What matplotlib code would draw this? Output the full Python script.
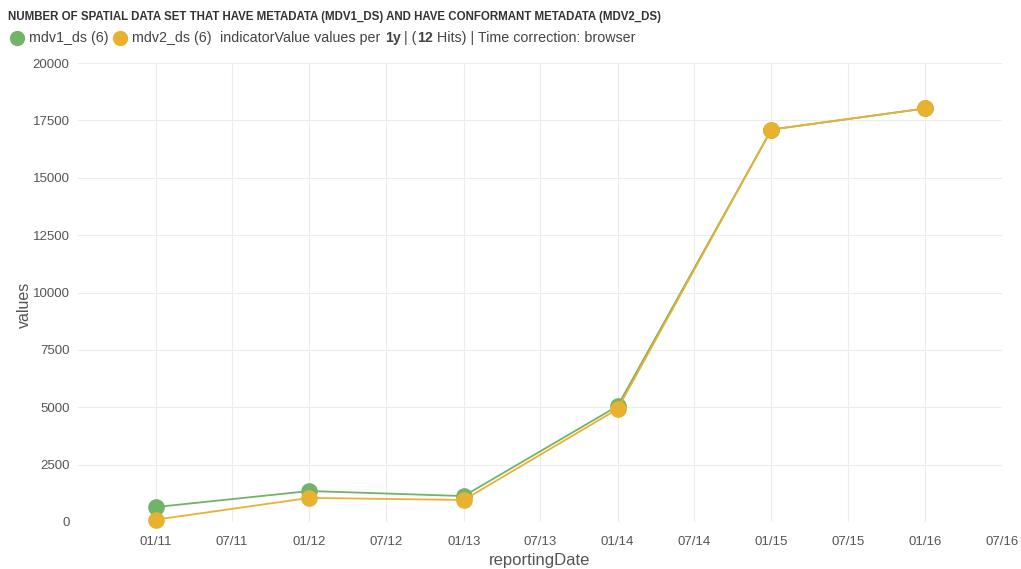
import matplotlib
matplotlib.use("Agg")
import matplotlib.pyplot as plt
import matplotlib.dates as mdates
from matplotlib.lines import Line2D
import datetime as dt

dates = ["2011-01-01", "2012-01-01", "2013-01-01", "2014-01-01", "2015-01-01", "2016-01-01"]
mdv1_ds = [650, 1350, 1130, 5050, 17100, 18020]
mdv2_ds = [100, 1050, 960, 4920, 17100, 18020]
series_names = ["mdv1_ds (6)", "mdv2_ds (6)"]
colors = ["#72b36a", "#e8b230"]
title = "NUMBER OF SPATIAL DATA SET THAT HAVE METADATA (MDV1_DS) AND HAVE CONFORMANT METADATA (MDV2_DS)"
yticks = [0, 2500, 5000, 7500, 10000, 12500, 15000, 17500, 20000]
xtick_dates = ["2011-01-01", "2011-07-01", "2012-01-01", "2012-07-01", "2013-01-01", "2013-07-01",
               "2014-01-01", "2014-07-01", "2015-01-01", "2015-07-01", "2016-01-01", "2016-07-01"]

plt.rcParams['font.family'] = ['Liberation Sans', 'DejaVu Sans']

def parse(d):
    return dt.datetime.strptime(d, "%Y-%m-%d")

x = [parse(d) for d in dates]

fig = plt.figure(figsize=(10.21, 5.69), dpi=100)
ax = fig.add_axes([78/1021, 1 - 522/569, (1002-78)/1021, (522-63)/569])

ax.plot(x, mdv1_ds, color=colors[0], lw=1.3, marker='o', ms=11, zorder=3, clip_on=False)
ax.plot(x, mdv2_ds, color=colors[1], lw=1.3, marker='o', ms=11, zorder=4, clip_on=False)

ax.set_xlim(dt.datetime(2010, 7, 1), dt.datetime(2016, 7, 1))
ax.set_ylim(0, 20000)
ax.set_yticks(yticks)
ax.set_xticks([parse(d) for d in xtick_dates])
ax.xaxis.set_major_formatter(mdates.DateFormatter("%m/%y"))
ax.grid(True, color="#ececec", lw=0.8)
ax.set_axisbelow(True)
for s in ax.spines.values():
    s.set_visible(False)
ax.tick_params(axis='both', length=0, labelsize=9.5, colors="#555555")
ax.tick_params(axis='x', pad=10)
ax.tick_params(axis='y', pad=6)
ax.set_ylabel("values", fontsize=11.5, color="#555555")
ax.yaxis.set_label_coords(-46/924, 0.474)
ax.set_xlabel("reportingDate", fontsize=12, color="#555555", labelpad=4)

fig.text(8/1021, 1 - 17/569, title, fontsize=8.3, fontweight='bold', color="#333333",
         va='center', ha='left')

# legend row
renderer = fig.canvas.get_renderer()
ly = 1 - 38/569
xpos = 10
def add_text(s, bold=False, gap=0):
    global xpos
    t = fig.text(xpos/1021, ly, s, fontsize=10.3, color="#444444",
                 fontweight='bold' if bold else 'normal', va='center', ha='left')
    bb = t.get_window_extent(renderer=renderer)
    xpos = xpos + bb.width + gap

def add_marker(c):
    global xpos
    fig.add_artist(Line2D([(xpos + 7)/1021], [ly], marker='o', ms=10, color=c,
                          transform=fig.transFigure, linestyle='none'))
    xpos += 19

add_marker(colors[0])
add_text(series_names[0], gap=4)
add_marker(colors[1])
add_text(series_names[1], gap=9)
add_text("indicatorValue values per ")
add_text("1y", bold=True)
add_text(" | (")
add_text("12", bold=True)
add_text(" Hits) | Time correction: browser")

fig.savefig("out.png", dpi=100)
